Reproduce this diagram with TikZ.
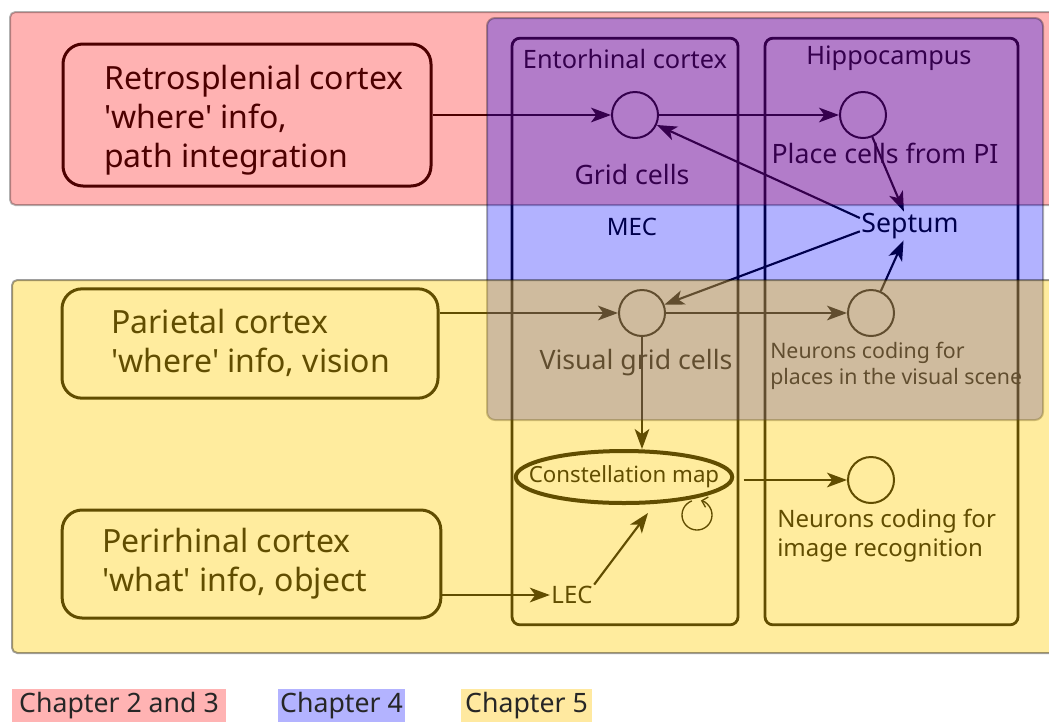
\documentclass[tikz,border=0pt]{standalone}
\usepackage{fontspec}
\setmainfont{Noto Sans}
\usetikzlibrary{arrows.meta,positioning,shapes.geometric}

\definecolor{chapA}{RGB}{255,179,179}
\definecolor{chapB}{RGB}{179,179,255}
\definecolor{chapC}{RGB}{255,233,160}
\definecolor{ovYellow}{RGB}{255,204,0}

\newcommand{\fbig}{\fontsize{24}{29.25}\selectfont}
\newcommand{\fmid}{\fontsize{20}{22}\selectfont}
\newcommand{\fsml}{\fontsize{16}{20}\selectfont}
\newcommand{\sq}{\textquotesingle}

\begin{document}
\begin{tikzpicture}[x=0.75pt,y=-0.75pt,
  cortex/.style={draw,rounded corners=15pt,line width=2.25pt,inner sep=0pt},
  column/.style={draw,rounded corners=6pt,line width=2.1pt,inner sep=0pt,
    minimum height=440pt},
  cell/.style={circle,draw,line width=1.5pt,minimum size=34.5pt,inner sep=0pt},
  bigtxt/.style={font=\fbig,align=left,anchor=west,inner sep=0pt},
  midtxt/.style={font=\fmid,inner sep=1pt},
  smltxt/.style={font=\fsml,align=left,anchor=west,inner sep=0pt},
  arr/.style={-{Stealth[length=15pt,width=11pt,inset=4pt]},line width=1.6pt},
  region/.style={draw=black,line width=1.5pt,rounded corners=4pt,opacity=0.3},
  legend/.style={font=\fmid,text=black!85,minimum height=24.75pt,inner sep=0pt}
]
  \useasboundingbox (0,0) rectangle (1049,722);

  % input cortices
  \node[cortex,minimum width=276pt,minimum height=106.5pt] (rsc) at (247,115) {};
  \node[bigtxt] (rsct) at (104,120) {Retrosplenial cortex\\\sq where\sq\ info,\\path integration};
  \node[cortex,minimum width=282pt,minimum height=82pt] (par) at (250,343.5) {};
  \node[bigtxt] (part) at (111,343) {Parietal cortex\\\sq where\sq\ info, vision};
  \node[cortex,minimum width=284pt,minimum height=81pt] (prh) at (251.5,564) {};
  \node[bigtxt] (prht) at (102,564) {Perirhinal cortex\\\sq what\sq\ info, object};

  % entorhinal cortex and hippocampus
  \node[column,minimum width=169.5pt] (ec) at (625,331.5) {};
  \node[column,minimum width=189.75pt] (hc) at (891.5,331.5) {};
  \node[midtxt,font=\fontsize{19}{22}\selectfont] (ect) at (625,59) {Entorhinal cortex};
  \node[midtxt,font=\fontsize{19}{22}\selectfont] (hct) at (889,58) {Hippocampus};

  \node[cell] (grid) at (635,115) {};
  \node[cell] (place) at (863,115) {};
  \node[cell] (vgrid) at (642,313) {};
  \node[cell] (vplace) at (871,313) {};
  \node[cell] (recog) at (871,480) {};
  \node[midtxt] (gridt) at (632,174) {Grid cells};
  \node[midtxt] (placet) at (885,153) {Place cells from PI};
  \node[midtxt] (septum) at (910,226) {Septum};
  \node[midtxt,font=\fontsize{18}{22}\selectfont] (mec) at (632,227) {MEC};
  \node[midtxt] (vgridt) at (636,363) {Visual grid cells};
  \node[smltxt] (vplacet) at (770,366) {Neurons coding for\\places in the visual scene};
  \node[ellipse,draw,line width=3pt,minimum width=159pt,minimum height=39pt,
    inner xsep=-14pt,inner ysep=0pt,font=\fontsize{16.7}{20}\selectfont] (cmap) at (624,477) {Constellation map};
  \node[midtxt,font=\fontsize{18}{22}\selectfont] (lec) at (572,595) {LEC};
  \node[smltxt,font=\fontsize{18}{21.75}\selectfont] (recogt) at (777,536) {Neurons coding for\\image recognition};
  \coordinate (cmapin) at (648,513);
  \coordinate (loopc) at (697,515);

  % connections
  \draw[arr] (rsc.east) -- (grid);
  \draw[arr] (grid) -- (place);
  \draw[arr] (place) -- (septum);
  \draw[arr] ([yshift=6pt]septum.west) -- (grid);
  \draw[arr] ([yshift=-4pt]septum.west) -- (vgrid);
  \draw[arr] (vplace) -- (septum);
  \draw[arr] (par.east |- vgrid) -- (vgrid);
  \draw[arr] (vgrid) -- (vplace);
  \draw[arr] (vgrid) -- (vgrid |- cmap.north);
  \draw[arr] (prh.east |- lec) -- (lec);
  \draw[arr] (lec.north east) -- (cmapin);
  \draw[arr,shorten <=7pt] (cmap.east |- recog) -- (recog);
  \draw[line width=1pt,-{Straight Barb[length=4pt]}] ([shift={(250:15)}]loopc)
    arc[start angle=250,end angle=-75,radius=15];

  % chapter overlays
  \draw[region,fill=red] (10,12) rectangle (1066,205);
  \draw[region,fill=blue,rounded corners=6pt] (487,18) rectangle (1043,420);
  \draw[region,fill=ovYellow,opacity=0.38] (12,280) rectangle (1066,653);

  % legend
  \node[legend,fill=chapA,minimum width=160.5pt] (leg1) at (119,705.5) {Chapter 2 and 3};
  \node[legend,fill=chapB,minimum width=95.25pt] (leg2) at (341.5,705.5) {Chapter 4};
  \node[legend,fill=chapC,minimum width=98.25pt] (leg3) at (526.5,705.5) {Chapter 5};
\end{tikzpicture}
\end{document}
